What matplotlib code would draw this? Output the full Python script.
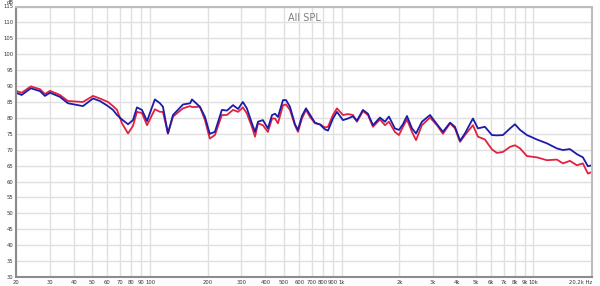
import matplotlib
matplotlib.use('Agg')
import matplotlib.pyplot as plt
import numpy as np

# frequency (Hz) and SPL (dB)
freq = [20, 21.4, 23.9, 26.7, 28.3, 30.1, 33.9, 37.3, 44.7, 50.4, 54.8, 60.4, 64.1, 67.3,
        71.4, 76.8, 81.5, 85.5, 90.8, 96.5, 106, 112.7, 116.8, 124, 131.8, 148.6, 162,
        165.5, 182, 193.5, 205, 218, 237, 252, 271, 288, 305, 320, 340, 353, 366, 388,
        412, 433, 449, 465, 494, 512, 537, 570, 591, 620, 651, 683, 725, 770, 818, 848,
        900, 944, 1015, 1077, 1144, 1200, 1290, 1370, 1455, 1583, 1680, 1763, 1893, 1988,
        2086, 2189, 2325, 2440, 2620, 2888, 3138, 3372, 3673, 3894, 4142, 4390, 4833,
        5132, 5583, 6073, 6448, 6929, 7555, 8005, 8520, 9245, 10425, 11753, 13254,
        14246, 15490, 16850, 18105, 19230, 20170]

red = [88.5, 87.9, 89.9, 89.0, 87.5, 88.5, 87.2, 85.3, 85.0, 86.9, 86.1, 85.0, 83.7, 82.5,
       78.3, 75.1, 77.5, 81.9, 81.5, 77.7, 82.7, 81.9, 81.9, 75.1, 80.4, 83.0, 83.7,
       83.4, 83.5, 79.3, 73.5, 74.6, 80.9, 80.9, 82.5, 81.9, 83.3, 81.4, 77.2, 74.1, 78.3,
       77.7, 75.6, 79.8, 79.8, 78.3, 84.0, 84.2, 82.5, 77.7, 75.6, 79.8, 82.5, 80.3,
       78.3, 78.0, 77.0, 77.2, 80.9, 83.0, 80.9, 81.2, 80.9, 78.8, 82.1, 80.9, 77.2,
       79.5, 77.7, 78.8, 75.6, 74.6, 77.2, 79.5, 75.6, 73.0, 77.7, 80.1, 77.7, 75.0,
       78.3, 76.7, 72.5, 74.6, 77.7, 74.1, 73.2, 70.1, 69.0, 69.3, 70.9, 71.4, 70.4,
       68.0, 67.6, 66.7, 66.9, 65.7, 66.5, 65.1, 65.7, 62.5, 63.0]

blue = [87.9, 87.2, 89.3, 88.4, 86.9, 87.9, 86.6, 84.6, 83.7, 86.1, 85.3, 83.7, 82.5, 80.9,
        79.5, 78.0, 79.3, 83.3, 82.5, 79.0, 85.8, 84.6, 83.5, 75.1, 80.9, 84.2, 84.6,
        85.8, 83.5, 80.3, 75.0, 75.6, 82.5, 82.3, 84.0, 82.8, 85.0, 83.0, 78.3, 75.6, 78.8,
        79.3, 76.7, 80.9, 81.3, 80.3, 85.6, 85.6, 83.5, 78.0, 76.2, 80.6, 83.0, 81.0,
        78.5, 77.9, 76.4, 76.0, 79.8, 81.9, 79.3, 79.8, 80.5, 79.1, 82.5, 81.3, 77.7,
        80.1, 78.8, 80.4, 76.7, 76.2, 78.0, 80.6, 76.7, 75.1, 78.8, 80.9, 78.0, 75.6,
        78.5, 77.2, 72.8, 75.1, 79.8, 76.7, 77.2, 74.6, 74.5, 74.6, 76.7, 78.0, 76.2,
        74.6, 73.2, 72.0, 70.4, 69.9, 70.2, 68.6, 67.6, 64.8, 65.1]

xticks = [20, 30, 40, 50, 60, 70, 80, 90, 100, 200, 300, 400, 500, 600, 700, 800, 900,
          1000, 2000, 3000, 4000, 5000, 6000, 7000, 8000, 9000, 10000, 20200]
xlabels = ['20', '30', '40', '50', '60', '70', '80', '90', '100', '200', '300', '400',
           '500', '600', '700', '800', '900', '1k', '2k', '3k', '4k', '5k', '6k', '7k',
           '8k', '9k', '10k', '20.2k Hz']
yticks = list(range(30, 116, 5))

fig = plt.figure(figsize=(6, 2.86), dpi=100)
ax = fig.add_axes([16 / 600, 1 - 277 / 286, 576 / 600, 270.5 / 286])

ax.set_xscale('log')
ax.set_xlim(20, 20200)
ax.set_ylim(30, 115)

ax.set_xticks(xticks)
ax.set_xticklabels(xlabels)
ax.xaxis.set_minor_locator(matplotlib.ticker.NullLocator())
ax.set_yticks(yticks)
ax.tick_params(axis='both', length=0, labelsize=3.8, labelcolor='#333333', pad=2)
# keep the last label inside the figure
ax.get_xticklabels()[-1].set_horizontalalignment('right')
ax.get_xticklabels()[-1].set_x(20200)

ax.grid(True, color='#e0e0e0', linewidth=1.0)
ax.set_axisbelow(True)

for side in ['left', 'bottom']:
    ax.spines[side].set_color('#8c8c8c')
    ax.spines[side].set_linewidth(1.5)
for side in ['top', 'right']:
    ax.spines[side].set_color('#bdbdbd')
    ax.spines[side].set_linewidth(1.5)

ax.plot(freq, red, color='#e3213f', linewidth=1.3)
ax.plot(freq, blue, color='#1c1ca8', linewidth=1.3)

ax.text(0.5, 0.975, 'All SPL', transform=ax.transAxes, ha='center', va='top',
        fontsize=7, color='#808080')
fig.text(10 / 600, 1 - 3 / 286, 'dB', ha='center', va='center', fontsize=3.8,
         color='#333333')

fig.savefig('out.png', dpi=100, facecolor='white')
